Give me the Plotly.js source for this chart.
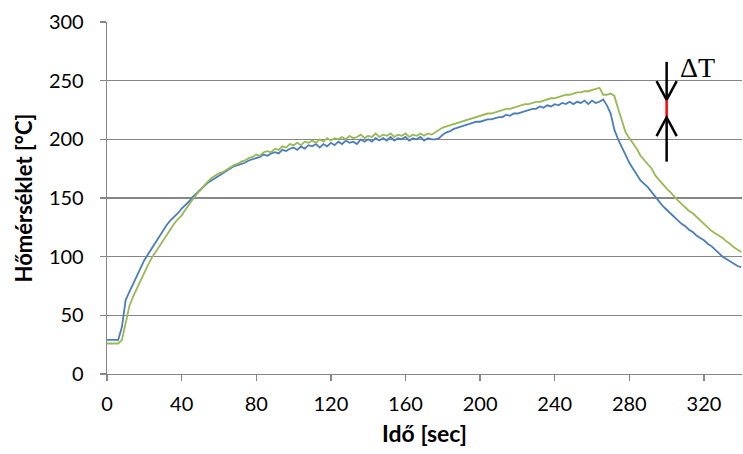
<!DOCTYPE html>
<html>
<head>
<meta charset="utf-8">
<script src="https://cdn.plot.ly/plotly-3.0.1.min.js"></script>
<style>html,body{margin:0;padding:0;background:#fff}#chart{width:743px;height:454px}</style>
</head>
<body>
<div id="chart"></div>
<script>
// time axis (sec), sampled every 2 s
const timeStart = 0, timeStep = 2;
const blueTemp = [
29,29,29,29,40,63,70,77,84,91,
97,102,107,112,118,123,127,131,134,137,
141,144,147,151,154,157,160,163,165,167,
169,171,173,175,177,178,179,180,182,183,
184,185,187,186,188,189,188,191,190,192,
193,191,194,192,195,194,196,193,196,194,
197,195,198,196,199,197,198,196,200,198,
200,198,201,199,201,199,202,199,201,200,
202,199,201,200,202,199,201,200,200,201,
204,206,207,209,210,211,212,213,214,215,
215,216,217,217,218,219,219,221,220,222,
222,223,224,225,226,226,228,227,229,228,
230,229,231,230,232,230,232,231,233,230,
233,231,232,234,229,222,208,200,193,187,
180,175,170,165,162,159,155,151,147,143,
140,137,134,131,128,126,123,121,118,116,
114,111,109,106,103,100,98,96,94,92,
91];
const greenTemp = [
26,26,26,26,29,45,58,66,73,80,
87,93,99,104,109,114,119,124,128,132,
135,140,145,149,153,157,160,164,167,169,
171,172,174,176,178,179,181,182,184,185,
187,186,189,190,189,192,191,194,193,196,
195,197,195,198,197,199,197,200,198,201,
199,201,200,202,200,203,201,202,204,201,
203,202,205,202,204,203,205,202,204,203,
205,202,204,203,205,203,205,204,206,208,
210,211,212,213,214,215,216,217,218,219,
220,221,222,222,223,224,225,226,226,227,
228,229,230,230,231,232,232,233,234,235,
235,236,237,238,238,239,240,240,241,241,
242,243,244,238,238,239,237,226,215,206,
201,197,192,186,182,179,175,169,165,161,
158,155,151,148,145,142,139,137,134,131,
128,125,122,120,118,116,113,111,108,106,
104];
const xTickLabels = ['0','40','80','120','160','200','240','280','320'];
const xTickValues = [0,40,80,120,160,200,240,280,320];
const yTickValues = [0,50,100,150,200,250,300];

// ΔT marker (data coordinates)
const dtX = 300;
const dtDownArrow = {tail: 266, tip: 233.6};
const dtUpArrow = {tail: 181, tip: 218.8};
const dtLabel = 'ΔT';

const timeBlue = blueTemp.map((_, i) => timeStart + i * timeStep);
const timeGreen = greenTemp.map((_, i) => timeStart + i * timeStep);

const gray = '#868686';
const armDx = 5.4, armDy = 16;

const traces = [
  {x: timeBlue, y: blueTemp, type: 'scatter', mode: 'lines',
   line: {color: '#4a7ebb', width: 1.8}, showlegend: false, hoverinfo: 'x+y'},
  {x: timeGreen, y: greenTemp, type: 'scatter', mode: 'lines',
   line: {color: '#98b954', width: 1.8}, showlegend: false, hoverinfo: 'x+y'}
];

const arrowLine = {color: '#000', width: 2.5};
const shapes = [
  {type: 'line', xref: 'x', yref: 'y', x0: dtX, x1: dtX, y0: dtDownArrow.tail, y1: dtDownArrow.tip, line: arrowLine},
  {type: 'path', xref: 'x', yref: 'y',
   path: `M ${dtX - armDx} ${dtDownArrow.tip + armDy} L ${dtX} ${dtDownArrow.tip} L ${dtX + armDx} ${dtDownArrow.tip + armDy}`,
   line: arrowLine},
  {type: 'line', xref: 'x', yref: 'y', x0: dtX, x1: dtX, y0: dtDownArrow.tip, y1: dtUpArrow.tip, line: {color: '#ff0000', width: 2.5}},
  {type: 'line', xref: 'x', yref: 'y', x0: dtX, x1: dtX, y0: dtUpArrow.tail, y1: dtUpArrow.tip, line: arrowLine},
  {type: 'path', xref: 'x', yref: 'y',
   path: `M ${dtX - armDx} ${dtUpArrow.tip - armDy} L ${dtX} ${dtUpArrow.tip} L ${dtX + armDx} ${dtUpArrow.tip - armDy}`,
   line: arrowLine}
];

const layout = {
  width: 743, height: 454,
  margin: {l: 107, r: 1, t: 22, b: 80},
  paper_bgcolor: '#fff', plot_bgcolor: '#fff',
  font: {family: 'Lato, "Open Sans", sans-serif', size: 20, color: '#000'},
  xaxis: {
    range: [0, 340.4], tickmode: 'array', tickvals: xTickValues, ticktext: xTickLabels,
    showgrid: false, zeroline: false, showline: true, linecolor: gray, linewidth: 1.3,
    ticks: 'outside', ticklen: 6, tickcolor: gray, tickwidth: 1.3, ticklabelstandoff: 6,
    tickfont: {size: 20, color: '#000'},
    title: {text: 'Idő [sec]', font: {size: 23, color: '#000', weight: 'bold'}, standoff: 11}
  },
  yaxis: {
    range: [0, 300], tickmode: 'array', tickvals: yTickValues,
    showgrid: true, gridcolor: gray, gridwidth: 1.3, zeroline: false,
    showline: true, linecolor: gray, linewidth: 1.3,
    ticks: 'outside', ticklen: 6, tickcolor: gray, tickwidth: 1.3, ticklabelstandoff: 12,
    tickfont: {size: 20, color: '#000'},
    title: {text: 'Hőmérséklet [°C]', font: {size: 22, color: '#000', weight: 'bold'}, standoff: 10}
  },
  shapes: shapes,
  annotations: [
    {x: 316.5, y: 261, xref: 'x', yref: 'y', text: dtLabel, showarrow: false,
     font: {family: '"Liberation Serif", "DejaVu Serif", serif', size: 28, color: '#000'}}
  ]
};

Plotly.newPlot('chart', traces, layout, {displayModeBar: false, staticPlot: true});
</script>
</body>
</html>
